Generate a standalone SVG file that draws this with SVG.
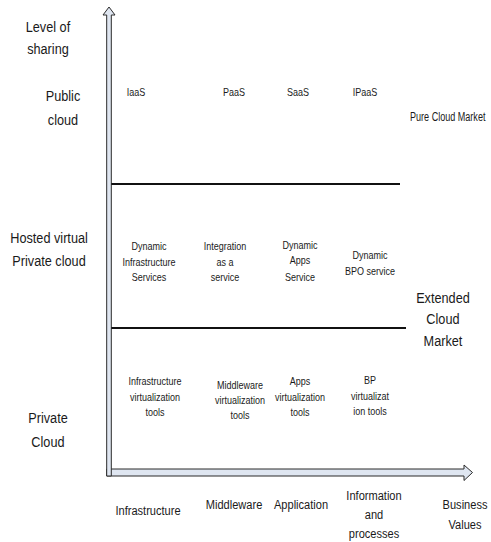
<svg xmlns="http://www.w3.org/2000/svg" width="491" height="542" viewBox="0 0 491 542">
  <style>
    text { font-family: "Liberation Sans Narrow", "Liberation Sans", Arial, sans-serif; fill: #1a1a1a; text-anchor: middle; }
    .big { font-size: 15.5px; }
    .axis { font-size: 13.5px; }
    .cell { font-size: 11px; }
    .arrow { fill: #dfe6f1; stroke: #2b2b2b; stroke-width: 1; stroke-linejoin: miter; }
    .divider { stroke: #111; stroke-width: 2; fill: none; }
  </style>

  <!-- axes -->
  <g id="axes">
    <path class="arrow" d="M106.7,476 L106.7,469 L464,469 L464,465 L472.5,472.5 L464,480.5 L464,476 Z"/>
    <path class="arrow" d="M106.7,476 L106.7,15 L103,15 L109,7 L115,15 L111.3,15 L111.3,476 Z"/>
  </g>

  <!-- band dividers -->
  <g id="dividers">
    <line class="divider" x1="111.3" y1="184" x2="400" y2="184"/>
    <line class="divider" x1="111.3" y1="328" x2="406" y2="328"/>
  </g>

  <!-- all labels use a condensed face: horizontal scale 0.82, x positions given in scaled units -->
  <g id="labels" transform="scale(0.82 1)">
    <!-- vertical axis labels -->
    <g id="y-title"><text class="big" x="58.5" y="32">Level of</text><text class="big" x="58.5" y="54">sharing</text></g>
    <g id="y-public"><text class="big" x="76.8" y="101">Public</text><text class="big" x="76.8" y="125">cloud</text></g>
    <g id="y-hosted"><text class="big" x="59.8" y="243">Hosted virtual</text><text class="big" x="59.8" y="266">Private cloud</text></g>
    <g id="y-private"><text class="big" x="58.5" y="423">Private</text><text class="big" x="58.5" y="447">Cloud</text></g>

    <!-- public cloud row -->
    <g id="iaas"><text class="cell" x="165.9" y="96">IaaS</text></g>
    <g id="paas"><text class="cell" x="285.4" y="96">PaaS</text></g>
    <g id="saas"><text class="cell" x="363.4" y="96">SaaS</text></g>
    <g id="ipaas"><text class="cell" x="445.1" y="96">IPaaS</text></g>
    <g id="pure-market"><text class="axis" x="500" y="121" textLength="92" lengthAdjust="spacingAndGlyphs" style="text-anchor:start">Pure Cloud Market</text></g>

    <!-- hosted virtual private cloud row -->
    <g id="dyn-infra"><text class="cell" x="181.7" y="250">Dynamic</text><text class="cell" x="181.7" y="266">Infrastructure</text><text class="cell" x="181.7" y="281">Services</text></g>
    <g id="integration"><text class="cell" x="274.4" y="250">Integration</text><text class="cell" x="274.4" y="266">as a</text><text class="cell" x="274.4" y="281">service</text></g>
    <g id="dyn-apps"><text class="cell" x="365.9" y="249">Dynamic</text><text class="cell" x="365.9" y="264">Apps</text><text class="cell" x="365.9" y="281">Service</text></g>
    <g id="dyn-bpo"><text class="cell" x="451.2" y="259">Dynamic</text><text class="cell" x="451.2" y="275">BPO service</text></g>
    <g id="extended-market"><text class="big" x="540.2" y="303">Extended</text><text class="big" x="540.2" y="324">Cloud</text><text class="big" x="540.2" y="346">Market</text></g>

    <!-- private cloud row -->
    <g id="infra-virt"><text class="cell" x="189" y="385">Infrastructure</text><text class="cell" x="189" y="401">virtualization</text><text class="cell" x="189" y="416">tools</text></g>
    <g id="mw-virt"><text class="cell" x="292.7" y="389">Middleware</text><text class="cell" x="292.7" y="404">virtualization</text><text class="cell" x="292.7" y="419">tools</text></g>
    <g id="apps-virt"><text class="cell" x="365.9" y="385">Apps</text><text class="cell" x="365.9" y="401">virtualization</text><text class="cell" x="365.9" y="416">tools</text></g>
    <g id="bp-virt"><text class="cell" x="451.2" y="384">BP</text><text class="cell" x="451.2" y="400">virtualizat</text><text class="cell" x="451.2" y="415">ion tools</text></g>

    <!-- horizontal axis labels -->
    <g id="x-infra"><text class="axis" x="180.5" y="515">Infrastructure</text></g>
    <g id="x-middleware"><text class="axis" x="285.4" y="509">Middleware</text></g>
    <g id="x-application"><text class="axis" x="367.1" y="509">Application</text></g>
    <g id="x-information"><text class="axis" x="456.1" y="500">Information</text><text class="axis" x="456.1" y="519">and</text><text class="axis" x="456.1" y="538">processes</text></g>
    <g id="x-business"><text class="axis" x="567.1" y="509">Business</text><text class="axis" x="567.1" y="529">Values</text></g>
  </g>
</svg>
